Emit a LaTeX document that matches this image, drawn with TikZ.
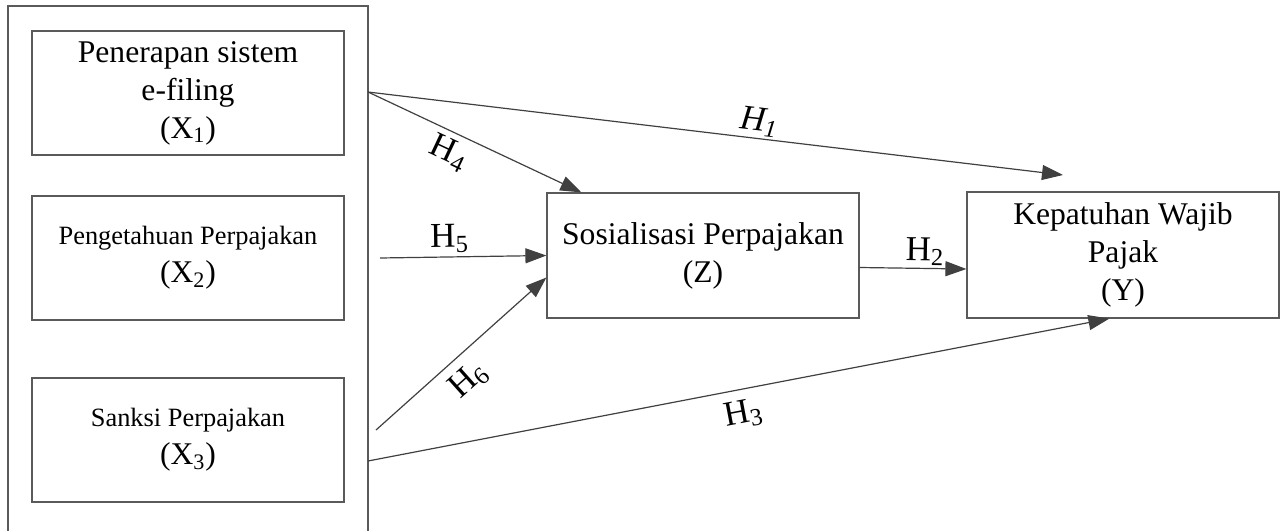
\documentclass[tikz,border=0pt]{standalone}
\usepackage{fontspec}
\setmainfont{Liberation Serif}
\usetikzlibrary{arrows.meta,positioning,calc}
\definecolor{linegray}{RGB}{64,64,64}
\definecolor{boxgray}{RGB}{90,90,90}
\newcommand{\bigtxt}{\fontsize{15.8}{19}\selectfont}
\newcommand{\smalltxt}{\fontsize{13.2}{19}\selectfont}
\newcommand{\hyptxt}{\fontsize{17.5}{20}\selectfont}

\begin{document}
\begin{tikzpicture}[
    x=0.5pt, y=-0.5pt,
    box/.style={rectangle, draw=boxgray, line width=0.6pt, minimum width=156pt, minimum height=62pt, inner sep=0pt, align=center, font=\bigtxt},
    group/.style={rectangle, draw=boxgray, line width=0.6pt, minimum width=180pt, minimum height=266pt},
    link/.style={draw=linegray, line width=0.6pt, -{Triangle[length=10.5pt,width=7.5pt]}},
    hyp/.style={font=\hyptxt, sloped, inner sep=1pt}
]
    \clip (0,0) rectangle (1284,530);

    % Independent variables
    \node[group] (grp) at (188,272) {};
    \node[box] (x1) at (188,93) {Penerapan sistem\\e-filing\\(X\textsubscript{1})};
    \node[box] (x2) at (188,258) {{\smalltxt Pengetahuan Perpajakan}\\(X\textsubscript{2})};
    \node[box] (x3) at (188,440) {{\smalltxt Sanksi Perpajakan}\\(X\textsubscript{3})};

    % Intervening and dependent
    \node[box, minimum height=62.5pt] (z) at (703,255.5) {Sosialisasi Perpajakan\\(Z)};
    \node[box, minimum height=63pt] (y) at (1123,255) {Kepatuhan Wajib\\Pajak\\(Y)};

    % Free ends
    \coordinate (s1) at (368,92);
    \coordinate (s5) at (380,258);
    \coordinate (s6) at (376,430);
    \coordinate (s3) at (368,461);
    \coordinate (t1) at (1063,175);

    % Edges
    \draw[link] (s1) -- node[hyp, above=0pt, pos=0.56] {\textit{H\textsubscript{1}}} (t1);
    \draw[link] (s1) -- node[hyp, below=2pt, pos=0.42] {H\textsubscript{4}} ([xshift=17.5pt]z.north west);
    \draw[link] (s5) -- node[hyp, above=1pt, pos=0.42] {H\textsubscript{5}} (z.west);
    \draw[link] (s6) -- node[hyp, below=4pt, pos=0.45] {H\textsubscript{6}} ([yshift=-11pt]z.west);
    \draw[link] ([yshift=-6pt]z.east) -- node[hyp, above=0pt, pos=0.61] {H\textsubscript{2}} ([yshift=-7pt]y.west);
    \draw[link] (s3) -- node[hyp, below=4pt, pos=0.5] {H\textsubscript{3}} ([xshift=71.5pt]y.south west);
\end{tikzpicture}
\end{document}
